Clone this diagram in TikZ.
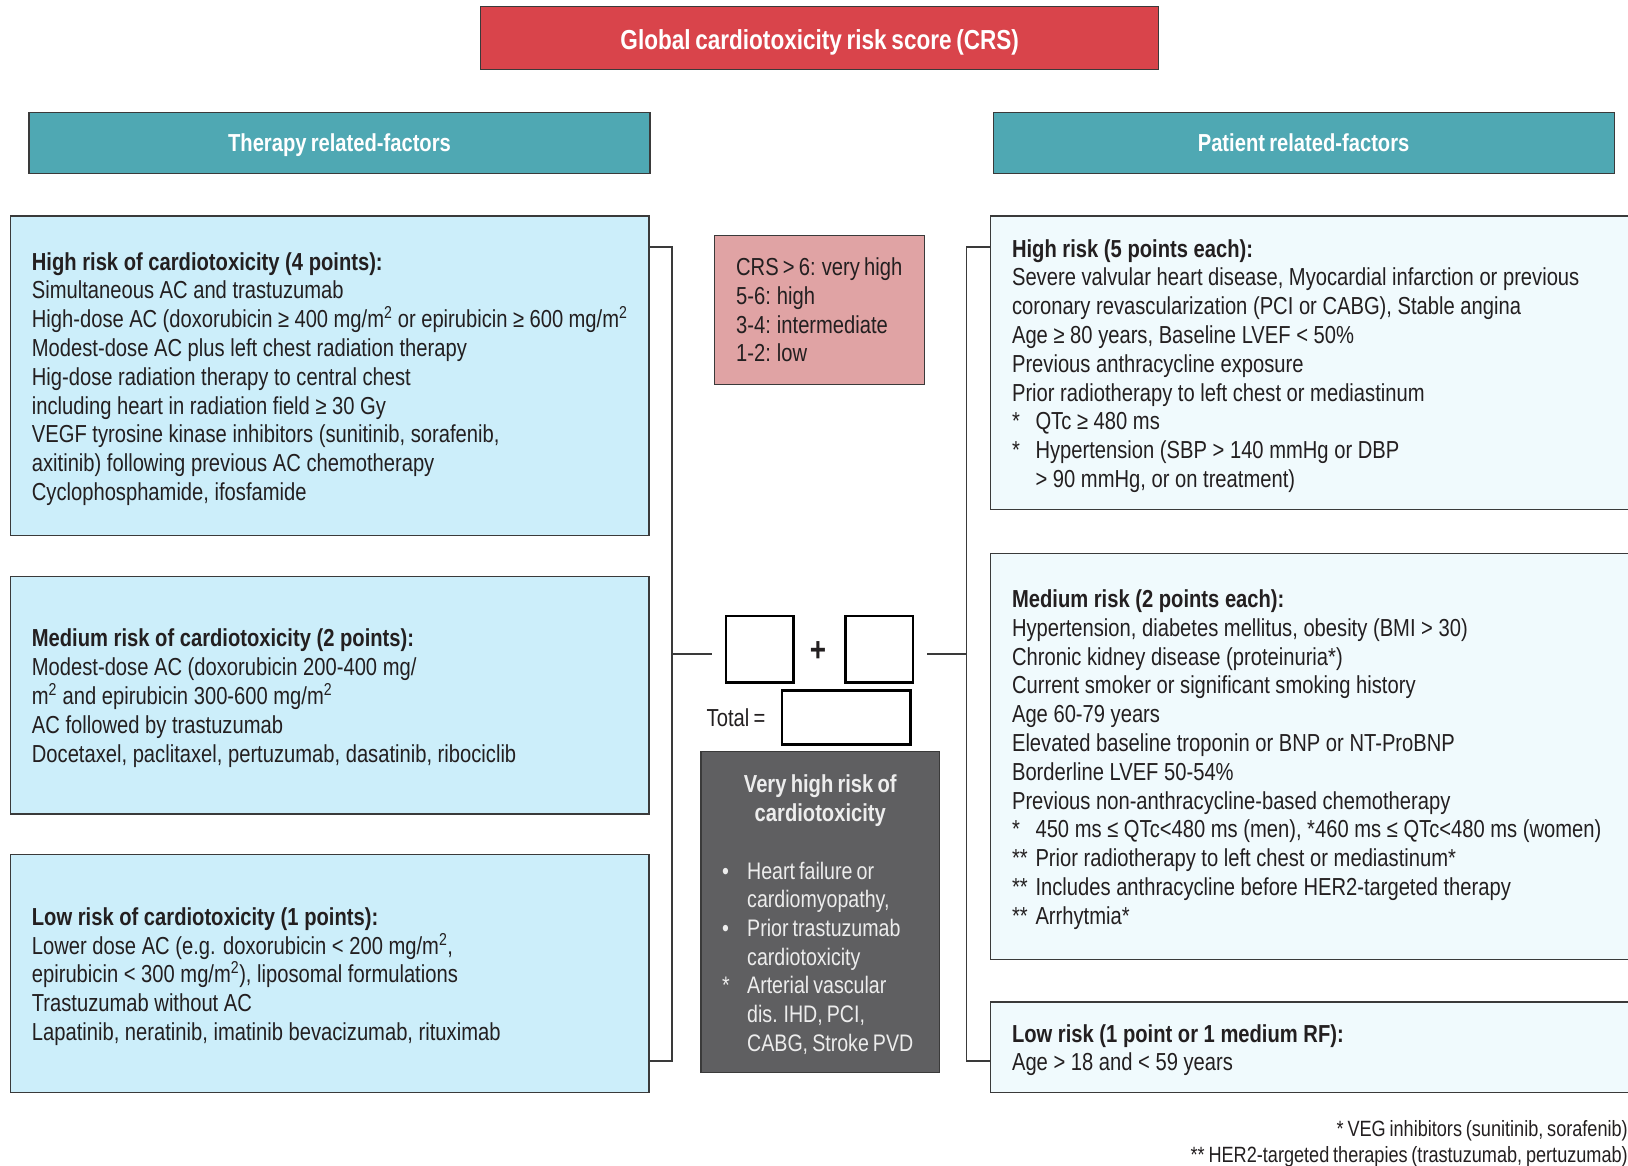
\documentclass[tikz,border=0pt]{standalone}
\usepackage{fontspec}
\setmainfont{Liberation Sans}[FakeStretch=0.82, WordSpace=0.75]
\newfontfamily\boxfont{Liberation Sans}[FakeStretch=0.82]
\usetikzlibrary{positioning}

\definecolor{crsred}{HTML}{D9444B}
\definecolor{headteal}{HTML}{4FA8B3}
\definecolor{therfill}{HTML}{CCEEFA}
\definecolor{patfill}{HTML}{F0FAFD}
\definecolor{scorepink}{HTML}{E0A3A4}
\definecolor{vhgrey}{HTML}{5F5F61}
\definecolor{inkgrey}{HTML}{231F20}
\definecolor{edgegrey}{HTML}{3A3A3A}

% hanging marker for starred items
\newcommand{\mk}[1]{\makebox[23.5pt][l]{#1}}
\newcommand{\vk}[1]{\makebox[25pt][l]{#1}}

\begin{document}
\begin{tikzpicture}[x=1pt, y=-1pt,
  every node/.style={text=inkgrey, font=\fontsize{24.6}{28.8}\selectfont},
  titlebox/.style={draw=edgegrey, line width=1.2pt, fill=crsred, text=white, text depth=0pt, text height=24pt,
    font=\fontsize{27.5}{30}\selectfont\bfseries, minimum width=678pt, minimum height=63.4pt, inner sep=0pt},
  headbox/.style={draw=edgegrey, line width=1.2pt, fill=headteal, text=white, text depth=0pt,
    font=\fontsize{24.6}{28.8}\selectfont\bfseries, minimum width=621pt, minimum height=61pt, inner sep=0pt},
  riskbox/.style={draw=edgegrey, line width=1.2pt, align=flush left, inner xsep=21.5pt, inner ysep=0pt,
    font=\boxfont\fontsize{24.6}{28.8}\selectfont, execute at begin node=\rule{0pt}{24pt}},
  therbox/.style={riskbox, fill=therfill, text width=595.6pt, minimum height=#1},
  patbox/.style={riskbox, fill=patfill, text width=606.5pt, minimum height=#1},
  scorebox/.style={draw=black, line width=2.5pt, minimum width=67.5pt, minimum height=66.5pt, inner sep=0pt},
  bracket/.style={draw=edgegrey, line width=1.4pt},
  vhtext/.style={text=white!93!black, inner sep=0pt, font=\fontsize{23.9}{28.7}\selectfont}
]
\useasboundingbox (0,0) rectangle (1628,1166);
\clip (0,0) rectangle (1628,1166);

% headings
\node[titlebox] (crs) at (819.7,37.9) {Global cardiotoxicity risk score (CRS)};
\node[headbox] (therapy) at (339.5,142.8) {Therapy related-factors};
\node[headbox] (patient) at (1303.6,142.8) {Patient related-factors};

% therapy related boxes
\node[therbox=319.8pt] (lhigh) at (329.7,375.9) {\textbf{High risk of cardiotoxicity (4 points):}\\
Simultaneous AC and trastuzumab\\
High-dose AC (doxorubicin ≥ 400 mg/m\textsuperscript{2} or epirubicin ≥ 600 mg/m\textsuperscript{2}\\
Modest-dose AC plus left chest radiation therapy\\
Hig-dose radiation therapy to central chest\\
including heart in radiation field ≥ 30 Gy\\
VEGF tyrosine kinase inhibitors (sunitinib, sorafenib,\\
axitinib) following previous AC chemotherapy\\
Cyclophosphamide, ifosfamide};
\node[therbox=237.8pt] (lmed) at (329.7,695.1) {\textbf{Medium risk of cardiotoxicity (2 points):}\\
Modest-dose AC (doxorubicin 200-400 mg/\\
m\textsuperscript{2} and epirubicin 300-600 mg/m\textsuperscript{2}\\
AC followed by trastuzumab\\
Docetaxel, paclitaxel, pertuzumab, dasatinib, ribociclib};
\node[therbox=237.8pt] (llow) at (329.7,973.4) {\textbf{Low risk of cardiotoxicity (1 points):}\\
Lower dose AC (e.g. doxorubicin < 200 mg/m\textsuperscript{2},\\
epirubicin < 300 mg/m\textsuperscript{2}), liposomal formulations\\
Trastuzumab without AC\\
Lapatinib, neratinib, imatinib bevacizumab, rituximab};

% patient related boxes
\node[patbox=293.8pt] (rhigh) at (1315.3,362.9) {\textbf{High risk (5 points each):}\\
Severe valvular heart disease, Myocardial infarction or previous\\
coronary revascularization (PCI or CABG), Stable angina\\
Age ≥ 80 years, Baseline LVEF < 50\%\\
Previous anthracycline exposure\\
Prior radiotherapy to left chest or mediastinum\\
\mk{*}QTc ≥ 480 ms\\
\mk{*}Hypertension (SBP > 140 mmHg or DBP\\
\mk{}> 90 mmHg, or on treatment)};
\node[patbox=406pt] (rmed) at (1315.3,756.4) {\textbf{Medium risk (2 points each):}\\
Hypertension, diabetes mellitus, obesity (BMI > 30)\\
Chronic kidney disease (proteinuria*)\\
Current smoker or significant smoking history\\
Age 60-79 years\\
Elevated baseline troponin or BNP or NT-ProBNP\\
Borderline LVEF 50-54\%\\
Previous non-anthracycline-based chemotherapy\\
\mk{*}450 ms ≤ QTc<480 ms (men), *460 ms ≤ QTc<480 ms (women)\\
\mk{**}Prior radiotherapy to left chest or mediastinum*\\
\mk{**}Includes anthracycline before HER2-targeted therapy\\
\mk{**}Arrhytmia*};
\node[patbox=90.3pt] (rlow) at (1315.3,1047.1) {\textbf{Low risk (1 point or 1 medium RF):}\\
Age > 18 and < 59 years};

% score legend
\node[draw=edgegrey, line width=1.2pt, fill=scorepink, align=left, minimum width=209.7pt, minimum height=148.5pt, inner xsep=22pt] (legend) at (819.2,310) {CRS > 6: very high\\
5-6: high\\
3-4: intermediate\\
1-2: low};

% summing boxes
\node[scorebox] (box1) at (759.5,649) {};
\node[scorebox] (box2) at (879.4,649) {};
\node[font=\fontsize{34}{34}\selectfont\bfseries, inner sep=0pt] (plus) at (818,652) {+};
\node[scorebox, minimum width=128.8pt, minimum height=54pt] (total) at (846.2,717.5) {};
\node[inner sep=0pt] (totlbl) at (736,717.5) {Total =};

% very high risk
\node[draw=edgegrey, line width=1.2pt, fill=vhgrey, minimum width=238.8pt, minimum height=320.9pt] (vhrisk) at (820.3,912.1) {};
\node[vhtext, align=center, font=\fontsize{24.6}{28.8}\selectfont\bfseries] (vhtitle) at (820.3,801) {Very high risk of\\cardiotoxicity};
\node[vhtext, align=left, anchor=west] (vhlist) at (722,958) {\vk{•}Heart failure or\\
\vk{}cardiomyopathy,\\
\vk{•}Prior trastuzumab\\
\vk{}cardiotoxicity\\
\vk{*}Arterial vascular\\
\vk{}dis. IHD, PCI,\\
\vk{}CABG, Stroke PVD};

% brackets
\coordinate (ltop) at (671.8,247.1);
\coordinate (lmid) at (671.8,654.1);
\coordinate (lbot) at (671.8,1061.1);
\coordinate (lend) at (712.3,654.1);
\coordinate (rtop) at (966.7,247.1);
\coordinate (rmid) at (966.7,654.1);
\coordinate (rbot) at (966.7,1061.1);
\coordinate (rend) at (927.2,654.1);
\draw[bracket] (lhigh.east |- ltop) -- (ltop) -- (lbot) -- (llow.east |- lbot);
\draw[bracket] (lmid) -- (lend);
\draw[bracket] (rhigh.west |- rtop) -- (rtop) -- (rbot) -- (rlow.west |- rbot);
\draw[bracket] (rend) -- (rmid);

% footnotes
\node[align=right, anchor=east, inner sep=0pt, font=\fontsize{22.1}{26}\selectfont] (fnote) at (1628,1144) {* VEG inhibitors (sunitinib, sorafenib)\\
** HER2-targeted therapies (trastuzumab, pertuzumab)};
\end{tikzpicture}
\end{document}
